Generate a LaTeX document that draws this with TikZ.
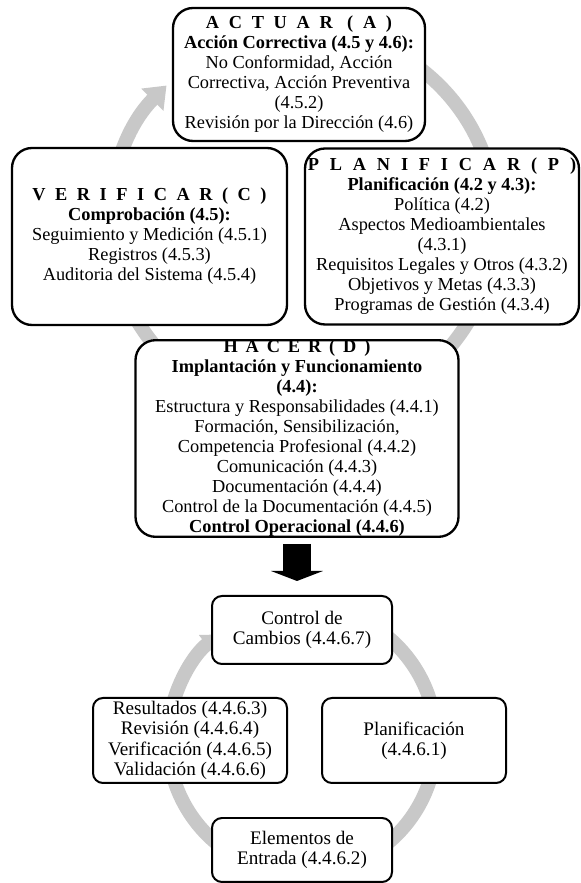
\documentclass[tikz,border=0pt]{standalone}
\usepackage{fontspec}
\setmainfont{Liberation Serif}
\usetikzlibrary{arrows.meta}

\definecolor{anillo}{RGB}{200,200,200}
\newcommand{\tituloPDCA}[2][50]{{\bfseries\addfontfeature{LetterSpace=#1}#2}}

\begin{document}
\begin{tikzpicture}[x=0.6pt, y=0.6pt,
    fase/.style={draw, line width=1.4pt, rounded corners=12pt, fill=white, align=center,
      inner sep=0pt, font=\fontsize{11}{12}\selectfont},
    paso/.style={draw, line width=1.2pt, rounded corners=6pt, fill=white, align=center,
      inner sep=0pt, font=\fontsize{11.5}{12.2}\selectfont},
    ciclo/.style={anillo, line width=8.4pt},
    flecha/.style={line width=17pt, -{Triangle[width=31pt, length=6pt]},
      shorten <=3.6pt, shorten >=8.4pt}]

    \useasboundingbox (0,0) rectangle (581,883);

    % Ciclo PDCA (gris)
    \draw[ciclo, -{Triangle[width=18pt, length=12pt]}] (303,661) ++(100:193) arc (100:-225:193);

    % Fases
    \node[fase, minimum width=151.2pt, minimum height=79.8pt] (actuar) at (299,808.5)
      {\tituloPDCA[53]{ACTUAR (A)}\\
       \textbf{Acción Correctiva (4.5 y 4.6):}\\
       No Conformidad, Acción\\
       Correctiva, Acción Preventiva\\
       (4.5.2)\\
       Revisión por la Dirección (4.6)};

    \node[fase, minimum width=165pt, minimum height=106.2pt] (verificar) at (149.5,646.5)
      {\tituloPDCA[52]{VERIFICAR(C)}\\
       \textbf{Comprobación (4.5):}\\
       Seguimiento y Medición (4.5.1)\\
       Registros (4.5.3)\\
       Auditoria del Sistema (4.5.4)};

    \node[fase, minimum width=164.4pt, minimum height=105.6pt] (planificar) at (442,646.5)
      {\tituloPDCA[59]{PLANIFICAR(P)}\\
       \textbf{Planificación (4.2 y 4.3):}\\
       Política (4.2)\\
       Aspectos Medioambientales\\
       (4.3.1)\\
       Requisitos Legales y Otros (4.3.2)\\
       Objetivos y Metas (4.3.3)\\
       Programas de Gestión (4.3.4)};

    \node[fase, minimum width=193.8pt, minimum height=117pt] (hacer) at (297,444.5)
      {\tituloPDCA[43]{HACER(D)}\\
       \textbf{Implantación y Funcionamiento}\\
       \textbf{(4.4):}\\
       Estructura y Responsabilidades (4.4.1)\\
       Formación, Sensibilización,\\
       Competencia Profesional (4.4.2)\\
       Comunicación (4.4.3)\\
       Documentación (4.4.4)\\
       Control de la Documentación (4.4.5)\\
       \textbf{Control Operacional (4.4.6)}};

    % Control operacional
    \draw[ciclo, -{Triangle[width=14pt, length=10pt]}] (302,143) ++(80:134) arc (80:-232:134);

    \node[paso, minimum width=108pt, minimum height=40.8pt] (cambios) at (302,253)
      {Control de\\ Cambios (4.4.6.7)};
    \node[paso, minimum width=116.4pt, minimum height=51pt] (resultados) at (190,142.5)
      {Resultados (4.4.6.3)\\ Revisión (4.4.6.4)\\ Verificación (4.4.6.5)\\ Validación (4.4.6.6)};
    \node[paso, minimum width=110.4pt, minimum height=51pt] (planif) at (414,142.5)
      {Planificación\\ (4.4.6.1)};
    \node[paso, minimum width=108pt, minimum height=38.4pt] (elementos) at (302,33)
      {Elementos de\\ Entrada (4.4.6.2)};

    \draw[flecha] (hacer.south) -- (hacer.south |- cambios.north);

\end{tikzpicture}
\end{document}
